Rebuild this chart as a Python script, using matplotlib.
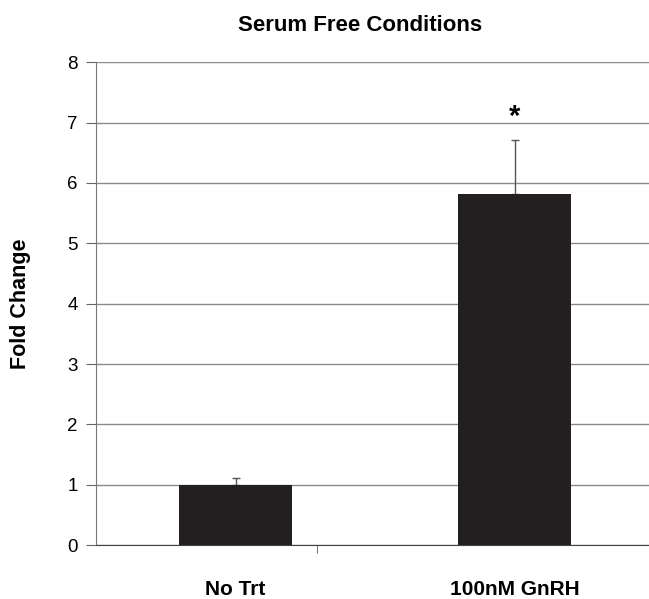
import matplotlib as mpl
mpl.use('Agg')
import matplotlib.pyplot as plt

plt.rcParams['font.family'] = ['Liberation Sans', 'DejaVu Sans']

groups = ['No Trt', '100nM GnRH']
fold_change = [1.0, 5.81]
err_up = [0.11, 0.91]
stars = ['', '*']

fig = plt.figure(figsize=(6.49, 5.99), dpi=100)
ax = fig.add_axes([0.148, 0.090, 0.860, 0.806])

x = list(range(len(groups)))
ax.bar(x, fold_change, width=0.405, color='#231f20', zorder=3)
ax.errorbar(x, fold_change, yerr=[[0, 0], err_up], fmt='none',
            ecolor='#555555', elinewidth=1, capsize=3, capthick=1, zorder=2)
for xi, v, e, s in zip(x, fold_change, err_up, stars):
    if s:
        ax.text(xi, v + e + 0.38, s, ha='center', va='center',
                fontsize=21, fontweight='bold')

ax.set_xlim(-0.5, 1.5)
ax.set_ylim(0, 8)
ax.set_yticks(range(0, 9))
ax.yaxis.grid(True, color='#8a8a8a', linewidth=1)
ax.set_axisbelow(True)
ax.tick_params(axis='y', labelsize=13.5, direction='out', length=7,
               color='#666666', pad=6)

ax.set_xticks(x)
ax.set_xticklabels(groups, fontsize=15, fontweight='bold')
ax.tick_params(axis='x', length=0, pad=25)
ax.set_xticks([0.29], minor=True)
ax.tick_params(axis='x', which='minor', length=6, color='#555555')

for side in ['top', 'right']:
    ax.spines[side].set_visible(False)
ax.spines['left'].set_color('#777777')
ax.spines['bottom'].set_color('#444444')

ax.set_ylabel('Fold Change', fontsize=15.5, fontweight='bold', labelpad=26)
fig.text(0.555, 0.958, 'Serum Free Conditions', ha='center', va='center',
         fontsize=16, fontweight='bold')

fig.savefig('out.png', dpi=100)
